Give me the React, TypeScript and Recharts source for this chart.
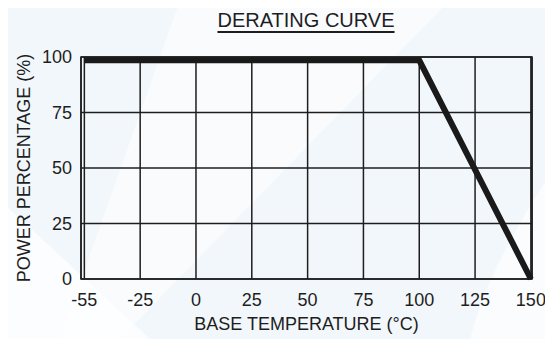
import {
  CartesianGrid,
  Line,
  LineChart,
  ReferenceArea,
  XAxis,
  YAxis,
} from "recharts";

// x axis ticks are evenly spaced even though -55 -> -25 is 30 degrees
const tempTicks = [-55, -25, 0, 25, 50, 75, 100, 125, 150];
const powerTicks = [0, 25, 50, 75, 100];

// derating curve
const curveTemps = [-55, 100, 150];
const curvePower = [98.5, 98.5, 0];

const data = curveTemps.map((t, i) => ({
  pos: tempTicks.indexOf(t),
  power: curvePower[i],
}));

const X_MIN = -0.06;
const X_MAX = 8.02;
const FONT = "'Liberation Sans', Arial, Helvetica, sans-serif";
const INK = "#1e1e1e";

export default function App() {
  return (
    <div
      style={{
        position: "relative",
        left: -8,
        top: -8,
        width: 553,
        height: 339,
        overflow: "hidden",
        background: "#f2f7fb",
        fontFamily: FONT,
      }}
    >
      <svg
        width={553}
        height={339}
        style={{ position: "absolute", left: 0, top: 0 }}
      >
        <path d="M0 200 L150 339 L0 339 Z" fill="#ffffff" opacity={0.7} />
        <path d="M180 0 L450 0 L120 339 L60 339 Z" fill="#ffffff" opacity={0.5} />
        <path d="M553 170 C500 250 480 300 470 339 L553 339 Z" fill="#ffffff" opacity={0.6} />
      </svg>
      <div
        style={{
          position: "absolute",
          left: 0,
          width: 612,
          top: 9,
          textAlign: "center",
          fontSize: 20,
          color: INK,
          textDecoration: "underline",
          textUnderlineOffset: 4,
          textDecorationThickness: 1.5,
        }}
      >
        DERATING CURVE
      </div>
      <div style={{ position: "absolute", left: 0, top: 0 }}>
        <LineChart
          width={553}
          height={339}
          data={data}
          margin={{ top: 57, right: 21, bottom: 0, left: 0 }}
        >
          <CartesianGrid stroke={INK} strokeWidth={1.5} />
          <ReferenceArea
            x1={X_MIN}
            x2={X_MAX}
            y1={0}
            y2={100}
            fill="none"
            stroke={INK}
            strokeWidth={1.5}
            fillOpacity={0}
          />
          <XAxis
            dataKey="pos"
            type="number"
            domain={[X_MIN, X_MAX]}
            ticks={tempTicks.map((_, i) => i)}
            tickFormatter={(v) => String(tempTicks[v])}
            axisLine={false}
            tickLine={false}
            tickSize={0}
            tickMargin={14}
            height={60}
            tick={{ fontSize: 18, fill: INK, fontFamily: FONT }}
            label={{
              value: "BASE TEMPERATURE (°C)",
              position: "insideBottom",
              offset: 9,
              fontSize: 18,
              fill: INK,
              fontFamily: FONT,
            }}
          />
          <YAxis
            type="number"
            domain={[0, 100]}
            ticks={powerTicks}
            axisLine={false}
            tickLine={false}
            tickSize={0}
            tickMargin={9}
            width={81}
            tick={{ fontSize: 18, fill: INK, fontFamily: FONT }}
            label={{
              value: "POWER PERCENTAGE (%)",
              angle: -90,
              position: "insideLeft",
              offset: 24,
              fontSize: 18,
              fill: INK,
              fontFamily: FONT,
              style: { textAnchor: "middle" },
            }}
          />
          <Line
            type="linear"
            dataKey="power"
            stroke="#1a1a1a"
            strokeWidth={6}
            strokeLinejoin="miter"
            dot={false}
            isAnimationActive={false}
          />
        </LineChart>
      </div>
    </div>
  );
}
